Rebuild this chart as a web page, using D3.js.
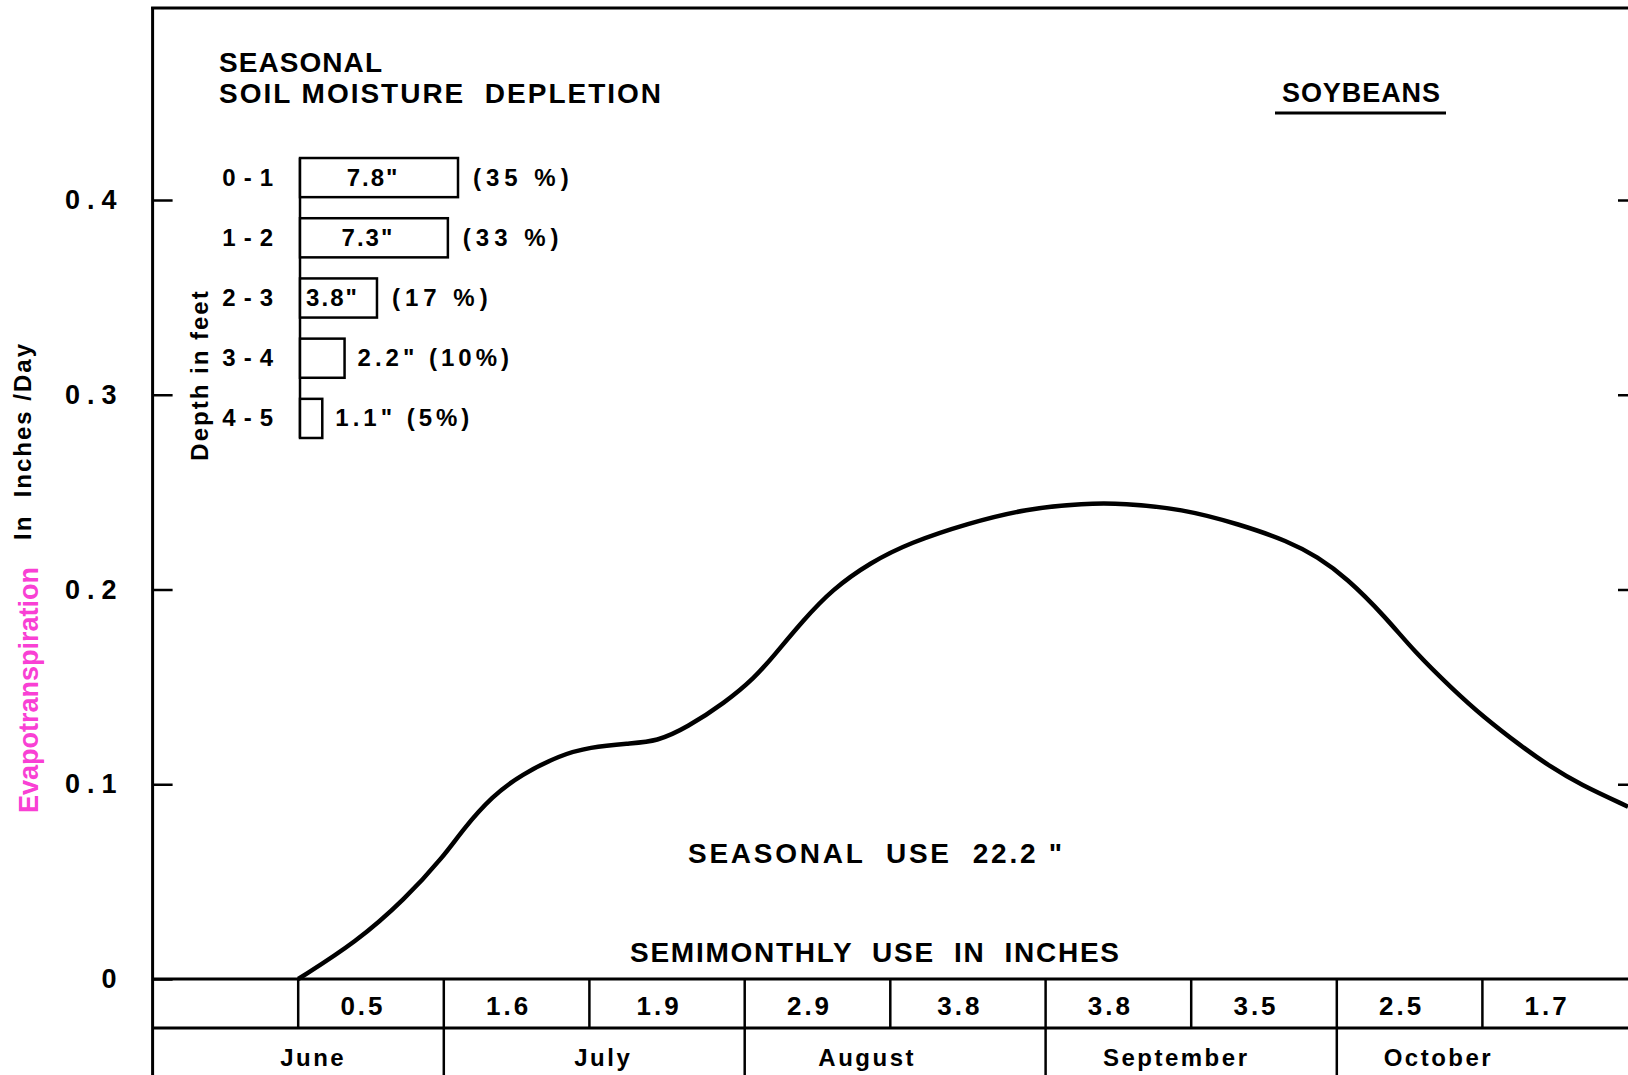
<!DOCTYPE html>
<html>
<head>
<meta charset="utf-8">
<script src="https://cdn.jsdelivr.net/npm/d3@7"></script>
<style>
  html, body { margin: 0; padding: 0; background: #fff; }
  svg { display: block; font-family: "Liberation Sans", Arial, sans-serif; }
  text { white-space: pre; }
</style>
</head>
<body>
<div id="chart"></div>
<script>
// Daily evapotranspiration curve (inches / day)
const etDates = ["1965-06-16","1965-06-22","1965-06-27","1965-07-01","1965-07-03","1965-07-06",
  "1965-07-09","1965-07-13","1965-07-16","1965-07-20","1965-07-23","1965-07-26","1965-07-30",
  "1965-08-02","1965-08-04","1965-08-07","1965-08-10","1965-08-14","1965-08-18","1965-08-24",
  "1965-08-30","1965-09-05","1965-09-09","1965-09-15","1965-09-21","1965-09-26","1965-09-29",
  "1965-10-02","1965-10-06","1965-10-09","1965-10-13","1965-10-16","1965-10-20","1965-10-23",
  "1965-10-26","1965-10-31"];
const etValues = [0, 0.019, 0.041, 0.063, 0.077, 0.094,
  0.105, 0.115, 0.119, 0.121, 0.122, 0.129, 0.142,
  0.1545, 0.166, 0.184, 0.200, 0.214, 0.224, 0.234,
  0.2415, 0.2443, 0.2443, 0.2415, 0.2335, 0.2248, 0.2168,
  0.206, 0.186, 0.168, 0.1485, 0.135, 0.1195, 0.109,
  0.100, 0.0885];
const yTicks = [0, 0.1, 0.2, 0.3, 0.4];

// Semimonthly use table
const periodStarts = ["1965-06-16","1965-07-01","1965-07-16","1965-08-01","1965-08-16",
  "1965-09-01","1965-09-16","1965-10-01","1965-10-16"];
const periodUse = [0.5, 1.6, 1.9, 2.9, 3.8, 3.8, 3.5, 2.5, 1.7];
const months = ["June", "July", "August", "September", "October"];
const monthStarts = ["1965-06-01","1965-07-01","1965-08-01","1965-09-01","1965-10-01"];

// Seasonal soil moisture depletion
const depthLabels = ["0-1", "1-2", "2-3", "3-4", "4-5"];
const depletionInches = [7.8, 7.3, 3.8, 2.2, 1.1];
const depletionPct = [35, 33, 17, 10, 5];

const seasonalUse = 22.2;

// Layout
const W = 1628, H = 1075;
const left = 152.6, right = 1628;
const zeroY = 979, topY = 200, rowY = 1028;
// hand lettering of the month names is not centred in its cells
const monthLabelShift = [15, 9, -28, -15, -44];

const svg = d3.select("#chart").append("svg")
    .attr("width", W)
    .attr("height", H);
svg.append("rect").attr("width", W).attr("height", H).attr("fill", "#fff");

const parse = d3.utcParse("%Y-%m-%d");
const x = d3.scaleUtc()
    .domain([parse("1965-06-01"), parse("1965-10-31")])
    .range([left, right]);
const y = d3.scaleLinear().domain([0, 0.4]).range([zeroY, topY]);

// Frame: left axis line and top border
svg.append("line")
    .attr("x1", left).attr("x2", left).attr("y1", 7).attr("y2", H)
    .attr("stroke", "#000").attr("stroke-width", 3);
svg.append("line")
    .attr("x1", left - 1.5).attr("x2", W).attr("y1", 8).attr("y2", 8)
    .attr("stroke", "#000").attr("stroke-width", 3);

// Left axis: ticks point inward, labels outside
const gy = svg.append("g")
    .attr("transform", `translate(${left},0)`)
    .call(d3.axisLeft(y).tickValues(yTicks).tickSizeInner(-20).tickSizeOuter(0).tickPadding(29)
        .tickFormat(d => d === 0 ? "0" : d3.format(".1f")(d)))
    .attr("font-family", null).attr("font-size", null);
gy.select(".domain").remove();
gy.selectAll(".tick line").attr("stroke", "#000").attr("stroke-width", 2.5);
gy.selectAll(".tick text")
    .attr("fill", "#000")
    .attr("font-size", 27)
    .attr("font-weight", "bold")
    .attr("letter-spacing", 7);

// Right-hand tick marks
const gr = svg.append("g")
    .attr("transform", `translate(${right},0)`)
    .call(d3.axisRight(y).tickValues(yTicks.filter(d => d > 0)).tickSizeInner(-10).tickSizeOuter(0).tickFormat(""));
gr.select(".domain").remove();
gr.selectAll(".tick line").attr("stroke", "#000").attr("stroke-width", 2.5);

// Y axis titles
svg.append("text")
    .attr("transform", "translate(38,690) rotate(-90)")
    .attr("text-anchor", "middle")
    .attr("font-size", 27)
    .attr("font-weight", "bold")
    .attr("fill", "#f940d4")
    .text("Evapotranspiration");
svg.append("text")
    .attr("transform", "translate(31,441) rotate(-90)")
    .attr("text-anchor", "middle")
    .attr("font-size", 24)
    .attr("font-weight", "bold")
    .attr("letter-spacing", 2)
    .text("In  Inches /Day");

// Table under the chart
svg.append("line")
    .attr("x1", left).attr("x2", W).attr("y1", y(0)).attr("y2", y(0))
    .attr("stroke", "#000").attr("stroke-width", 3);
svg.append("line")
    .attr("x1", left).attr("x2", W).attr("y1", rowY).attr("y2", rowY)
    .attr("stroke", "#000").attr("stroke-width", 3);

svg.append("g").selectAll("line")
    .data(periodStarts)
    .join("line")
      .attr("x1", d => x(parse(d))).attr("x2", d => x(parse(d)))
      .attr("y1", y(0)).attr("y2", rowY)
      .attr("stroke", "#000").attr("stroke-width", 2.5);

svg.append("g").selectAll("line")
    .data(monthStarts.slice(1))
    .join("line")
      .attr("x1", d => x(parse(d))).attr("x2", d => x(parse(d)))
      .attr("y1", rowY).attr("y2", H)
      .attr("stroke", "#000").attr("stroke-width", 2.5);

const periodEnd = i => i < periodStarts.length - 1 ? x(parse(periodStarts[i + 1])) : right;
svg.append("g").selectAll("text")
    .data(periodUse)
    .join("text")
      .attr("x", (d, i) => (x(parse(periodStarts[i])) + periodEnd(i)) / 2 - 8)
      .attr("y", 1015)
      .attr("text-anchor", "middle")
      .attr("font-size", 26)
      .attr("font-weight", "bold")
      .attr("letter-spacing", 3)
      .text(d => d3.format(".1f")(d));

const monthEnd = i => i < monthStarts.length - 1 ? x(parse(monthStarts[i + 1])) : right;
svg.append("g").selectAll("text")
    .data(months)
    .join("text")
      .attr("x", (d, i) => (x(parse(monthStarts[i])) + monthEnd(i)) / 2 + monthLabelShift[i])
      .attr("y", 1066)
      .attr("text-anchor", "middle")
      .attr("font-size", 24)
      .attr("font-weight", "bold")
      .attr("letter-spacing", 2.5)
      .text(d => d);

svg.append("text")
    .attr("x", 630).attr("y", 962)
    .attr("font-size", 28).attr("font-weight", "bold")
    .attr("textLength", 489).attr("lengthAdjust", "spacing")
    .text("SEMIMONTHLY  USE  IN  INCHES");

svg.append("text")
    .attr("x", 688).attr("y", 863)
    .attr("font-size", 28).attr("font-weight", "bold")
    .attr("textLength", 374).attr("lengthAdjust", "spacing")
    .text(`SEASONAL  USE  ${seasonalUse} "`);

// ET curve
const line = d3.line()
    .x((d, i) => x(parse(etDates[i])))
    .y(d => y(d))
    .curve(d3.curveBasis);
svg.append("path")
    .datum(etValues)
    .attr("d", line)
    .attr("fill", "none")
    .attr("stroke", "#000")
    .attr("stroke-width", 4.5)
    .attr("stroke-linejoin", "round");

// Headings
svg.append("text")
    .attr("x", 219).attr("y", 72)
    .attr("font-size", 28).attr("font-weight", "bold")
    .attr("textLength", 163).attr("lengthAdjust", "spacing")
    .text("SEASONAL");
svg.append("text")
    .attr("x", 219).attr("y", 103)
    .attr("font-size", 28).attr("font-weight", "bold")
    .attr("textLength", 442).attr("lengthAdjust", "spacing")
    .text("SOIL MOISTURE  DEPLETION");
svg.append("text")
    .attr("x", 1282).attr("y", 102)
    .attr("font-size", 27).attr("font-weight", "bold")
    .attr("textLength", 158).attr("lengthAdjust", "spacing")
    .text("SOYBEANS");
svg.append("line")
    .attr("x1", 1275).attr("x2", 1446).attr("y1", 113).attr("y2", 113)
    .attr("stroke", "#000").attr("stroke-width", 3);

// Soil depletion bars
const bx = d3.scaleLinear().domain([0, d3.max(depletionInches)]).range([300, 458]);
const by = d3.scaleBand().domain(depthLabels).range([152, 444]).paddingInner(0.35).paddingOuter(0.1);
const rowMid = i => by(depthLabels[i]) + by.bandwidth() / 2 + 8;

const bars = svg.append("g");
bars.append("line")
    .attr("x1", bx(0)).attr("x2", bx(0))
    .attr("y1", by(depthLabels[0])).attr("y2", by(depthLabels[depthLabels.length - 1]) + by.bandwidth())
    .attr("stroke", "#000").attr("stroke-width", 2.5);
bars.selectAll("rect")
    .data(depletionInches)
    .join("rect")
      .attr("x", bx(0))
      .attr("y", (d, i) => by(depthLabels[i]))
      .attr("width", d => bx(d) - bx(0))
      .attr("height", by.bandwidth())
      .attr("fill", "#fff")
      .attr("stroke", "#000")
      .attr("stroke-width", 2.5);

bars.selectAll(".depth")
    .data(depthLabels)
    .join("text")
      .attr("class", "depth")
      .attr("x", 281)
      .attr("y", (d, i) => rowMid(i))
      .attr("text-anchor", "end")
      .attr("font-size", 24).attr("font-weight", "bold")
      .attr("letter-spacing", 8)
      .text(d => d);

const inside = d => d >= 3;
bars.selectAll(".val")
    .data(depletionInches)
    .join("text")
      .attr("class", "val")
      .attr("x", d => inside(d) ? (bx(0) + bx(d)) / 2 - 6 : bx(d) + 13)
      .attr("y", (d, i) => rowMid(i))
      .attr("text-anchor", d => inside(d) ? "middle" : "start")
      .attr("font-size", 24).attr("font-weight", "bold")
      .attr("letter-spacing", d => inside(d) ? 2 : 4)
      .text((d, i) => inside(d)
          ? `${d3.format(".1f")(d)}"`
          : `${d3.format(".1f")(d)}" (${depletionPct[i]}%)`);

bars.selectAll(".pct")
    .data(depletionInches.map((d, i) => [d, depletionPct[i], i]).filter(d => inside(d[0])))
    .join("text")
      .attr("class", "pct")
      .attr("x", d => bx(d[0]) + 15)
      .attr("y", d => rowMid(d[2]))
      .attr("font-size", 24).attr("font-weight", "bold")
      .attr("letter-spacing", 5)
      .text(d => `(${d[1]} %)`);

svg.append("text")
    .attr("transform", "translate(208,375) rotate(-90)")
    .attr("text-anchor", "middle")
    .attr("font-size", 24).attr("font-weight", "bold")
    .attr("letter-spacing", 2)
    .text("Depth in feet");
</script>
</body>
</html>
